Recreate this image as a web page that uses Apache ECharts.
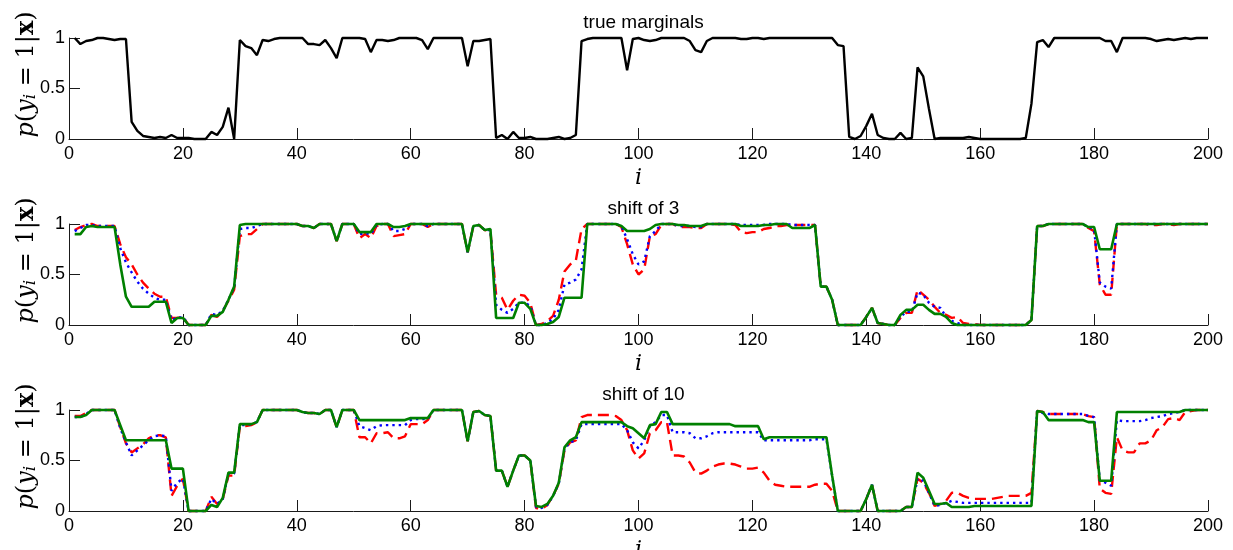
<!DOCTYPE html>
<html>
<head>
<meta charset="utf-8">
<script src="https://cdn.jsdelivr.net/npm/echarts@6/dist/echarts.min.js"></script>
<style>
  html, body { margin: 0; padding: 0; background: #fff; }
  #chart { width: 1233px; height: 550px; }
</style>
</head>
<body>
<div id="chart"></div>
<script>
// Marginal probabilities p(y_i = 1 | x) for positions i = 1..200.

const panelTitles = ['true marginals', 'shift of 3', 'shift of 10'];
const xTickValues = [0, 20, 40, 60, 80, 100, 120, 140, 160, 180, 200];
const yTickValues = [0, 0.5, 1];

// Exact marginals
const trueMarginals = [
  1.00, 0.94, 0.97, 0.98, 1.00, 1.00, 0.99, 0.98, 0.99, 0.99,
  0.17, 0.08, 0.03, 0.02, 0.01, 0.02, 0.01, 0.04, 0.01, 0.01,
  0.01, 0.00, 0.00, 0.00, 0.07, 0.04, 0.12, 0.31, 0.00, 0.98,
  0.92, 0.90, 0.83, 0.98, 0.97, 0.99, 1.00, 1.00, 1.00, 1.00,
  1.00, 0.94, 0.94, 0.93, 0.98, 0.90, 0.80, 1.00, 1.00, 1.00,
  1.00, 0.99, 0.86, 0.98, 0.98, 0.97, 0.98, 1.00, 1.00, 1.00,
  1.00, 0.98, 0.89, 1.00, 1.00, 1.00, 1.00, 1.00, 1.00, 0.72,
  0.97, 0.97, 0.98, 0.99, 0.01, 0.04, 0.00, 0.07, 0.01, 0.01,
  0.02, 0.00, 0.00, 0.00, 0.01, 0.02, 0.00, 0.01, 0.04, 0.97,
  0.99, 1.00, 1.00, 1.00, 1.00, 1.00, 1.00, 0.68, 0.99, 1.00,
  0.98, 0.97, 0.98, 1.00, 1.00, 1.00, 1.00, 1.00, 0.97, 0.88,
  0.86, 0.97, 1.00, 1.00, 1.00, 1.00, 1.00, 0.99, 0.99, 1.00,
  1.00, 0.99, 1.00, 1.00, 1.00, 1.00, 1.00, 1.00, 1.00, 1.00,
  1.00, 1.00, 1.00, 1.00, 0.93, 0.92, 0.02, 0.00, 0.03, 0.13,
  0.25, 0.04, 0.01, 0.00, 0.00, 0.06, 0.00, 0.01, 0.71, 0.62,
  0.30, 0.00, 0.01, 0.01, 0.01, 0.01, 0.01, 0.02, 0.01, 0.00,
  0.00, 0.00, 0.00, 0.00, 0.00, 0.00, 0.00, 0.01, 0.35, 0.96,
  0.98, 0.91, 1.00, 1.00, 1.00, 1.00, 1.00, 1.00, 1.00, 1.00,
  1.00, 0.97, 0.97, 0.86, 1.00, 1.00, 1.00, 1.00, 1.00, 0.99,
  0.97, 0.98, 0.99, 0.98, 0.99, 1.00, 0.99, 1.00, 1.00, 1.00
];

// Shift of 3: red dashed, blue dotted, green solid
const shift3Red = [
  0.94, 0.97, 0.99, 1.00, 0.98, 0.98, 0.98, 0.98, 0.80, 0.67,
  0.60, 0.50, 0.42, 0.36, 0.31, 0.28, 0.28, 0.07, 0.07, 0.08,
  0.00, 0.00, 0.00, 0.00, 0.10, 0.08, 0.14, 0.24, 0.35, 0.88,
  0.90, 0.90, 0.95, 1.00, 1.00, 1.00, 1.00, 1.00, 1.00, 1.00,
  0.98, 0.98, 0.96, 1.00, 1.00, 1.00, 0.83, 1.00, 1.00, 1.00,
  0.86, 0.90, 0.86, 0.98, 1.00, 1.00, 0.88, 0.89, 0.90, 1.00,
  1.00, 1.00, 0.97, 1.00, 1.00, 1.00, 1.00, 1.00, 1.00, 0.72,
  0.98, 0.99, 0.94, 0.93, 0.30, 0.27, 0.15, 0.24, 0.30, 0.29,
  0.22, 0.00, 0.01, 0.04, 0.09, 0.25, 0.53, 0.60, 0.64, 0.95,
  1.00, 1.00, 1.00, 1.00, 1.00, 1.00, 0.97, 0.80, 0.60, 0.50,
  0.55, 0.88, 0.90, 0.99, 1.00, 1.00, 0.97, 0.97, 0.97, 0.96,
  0.96, 1.00, 1.00, 1.00, 1.00, 1.00, 0.99, 0.92, 0.91, 0.92,
  0.92, 0.95, 0.96, 0.98, 0.98, 0.99, 0.99, 0.99, 0.99, 0.99,
  0.99, 0.38, 0.38, 0.25, 0.00, 0.00, 0.00, 0.00, 0.00, 0.08,
  0.17, 0.02, 0.01, 0.00, 0.00, 0.07, 0.12, 0.12, 0.35, 0.30,
  0.25, 0.18, 0.12, 0.10, 0.07, 0.08, 0.02, 0.01, 0.01, 0.00,
  0.00, 0.00, 0.00, 0.00, 0.00, 0.00, 0.00, 0.00, 0.05, 0.98,
  0.98, 1.00, 1.00, 1.00, 1.00, 1.00, 1.00, 1.00, 0.96, 0.93,
  0.40, 0.30, 0.30, 1.00, 1.00, 1.00, 1.00, 1.00, 1.00, 0.99,
  0.99, 1.00, 1.00, 0.99, 1.00, 1.00, 1.00, 1.00, 1.00, 1.00
];

const shift3Blue = [
  0.93, 0.96, 0.99, 0.99, 0.98, 0.98, 0.98, 0.98, 0.76, 0.62,
  0.52, 0.43, 0.36, 0.31, 0.27, 0.25, 0.25, 0.05, 0.07, 0.08,
  0.00, 0.00, 0.00, 0.00, 0.11, 0.10, 0.14, 0.25, 0.37, 0.95,
  0.96, 0.96, 0.98, 1.00, 1.00, 1.00, 1.00, 1.00, 1.00, 1.00,
  0.98, 0.98, 0.96, 1.00, 1.00, 1.00, 0.83, 1.00, 1.00, 1.00,
  0.90, 0.91, 0.90, 0.99, 1.00, 1.00, 0.93, 0.93, 0.95, 1.00,
  1.00, 1.00, 0.98, 1.00, 1.00, 1.00, 1.00, 1.00, 1.00, 0.72,
  0.98, 0.99, 0.94, 0.94, 0.20, 0.15, 0.12, 0.16, 0.22, 0.22,
  0.19, 0.00, 0.00, 0.02, 0.06, 0.15, 0.40, 0.42, 0.45, 0.55,
  1.00, 1.00, 1.00, 1.00, 1.00, 1.00, 0.98, 0.85, 0.70, 0.60,
  0.63, 0.88, 0.93, 1.00, 1.00, 1.00, 0.98, 0.98, 0.98, 0.97,
  0.97, 1.00, 1.00, 1.00, 1.00, 1.00, 1.00, 0.99, 0.99, 0.99,
  0.99, 0.99, 1.00, 1.00, 1.00, 1.00, 0.99, 0.99, 0.99, 0.99,
  0.99, 0.38, 0.38, 0.25, 0.00, 0.00, 0.00, 0.00, 0.00, 0.08,
  0.17, 0.02, 0.01, 0.00, 0.00, 0.08, 0.13, 0.13, 0.32, 0.30,
  0.22, 0.18, 0.17, 0.08, 0.04, 0.02, 0.00, 0.00, 0.00, 0.00,
  0.00, 0.00, 0.00, 0.00, 0.00, 0.00, 0.00, 0.00, 0.05, 0.98,
  0.98, 1.00, 1.00, 1.00, 1.00, 1.00, 1.00, 1.00, 0.97, 0.95,
  0.42, 0.38, 0.36, 1.00, 1.00, 1.00, 1.00, 1.00, 1.00, 1.00,
  1.00, 1.00, 1.00, 1.00, 1.00, 1.00, 1.00, 1.00, 1.00, 1.00
];

const shift3Green = [
  0.90, 0.90, 0.97, 0.98, 0.97, 0.97, 0.97, 0.97, 0.60, 0.28,
  0.18, 0.18, 0.18, 0.18, 0.23, 0.23, 0.23, 0.02, 0.07, 0.07,
  0.00, 0.00, 0.00, 0.00, 0.09, 0.09, 0.13, 0.25, 0.38, 0.99,
  1.00, 1.00, 1.00, 1.00, 1.00, 1.00, 1.00, 1.00, 1.00, 1.00,
  0.98, 0.98, 0.96, 1.00, 1.00, 1.00, 0.83, 1.00, 1.00, 1.00,
  0.92, 0.92, 0.92, 1.00, 1.00, 1.00, 0.97, 0.97, 0.98, 1.00,
  1.00, 1.00, 1.00, 1.00, 1.00, 1.00, 1.00, 1.00, 1.00, 0.72,
  0.98, 0.99, 0.94, 0.95, 0.07, 0.07, 0.07, 0.07, 0.22, 0.22,
  0.16, 0.00, 0.00, 0.01, 0.03, 0.08, 0.27, 0.27, 0.27, 0.27,
  1.00, 1.00, 1.00, 1.00, 1.00, 1.00, 0.98, 0.93, 0.93, 0.93,
  0.93, 0.95, 0.99, 1.00, 1.00, 1.00, 0.99, 0.99, 0.98, 0.98,
  0.98, 1.00, 1.00, 1.00, 1.00, 1.00, 1.00, 0.98, 0.98, 0.98,
  0.98, 0.99, 0.99, 1.00, 1.00, 1.00, 0.96, 0.96, 0.96, 0.96,
  0.99, 0.38, 0.38, 0.25, 0.00, 0.00, 0.00, 0.00, 0.00, 0.08,
  0.17, 0.02, 0.01, 0.00, 0.00, 0.10, 0.15, 0.15, 0.20, 0.20,
  0.15, 0.11, 0.11, 0.08, 0.02, 0.00, 0.00, 0.00, 0.00, 0.00,
  0.00, 0.00, 0.00, 0.00, 0.00, 0.00, 0.00, 0.00, 0.05, 0.98,
  0.98, 1.00, 1.00, 1.00, 1.00, 1.00, 1.00, 1.00, 0.97, 0.97,
  0.75, 0.75, 0.75, 1.00, 1.00, 1.00, 1.00, 1.00, 1.00, 1.00,
  1.00, 1.00, 1.00, 1.00, 1.00, 1.00, 1.00, 1.00, 1.00, 1.00
];

// Shift of 10: red dashed, blue dotted, green solid
const shift10Red = [
  0.94, 0.94, 0.97, 1.00, 1.00, 1.00, 1.00, 1.00, 0.83, 0.67,
  0.58, 0.62, 0.66, 0.72, 0.75, 0.75, 0.73, 0.15, 0.25, 0.32,
  0.00, 0.00, 0.00, 0.00, 0.14, 0.07, 0.12, 0.35, 0.35, 0.84,
  0.84, 0.85, 0.88, 1.00, 1.00, 1.00, 1.00, 1.00, 1.00, 1.00,
  0.98, 0.97, 0.97, 0.96, 1.00, 1.00, 0.83, 1.00, 1.00, 1.00,
  0.73, 0.73, 0.67, 0.77, 0.77, 0.78, 0.72, 0.72, 0.74, 0.86,
  0.86, 0.86, 0.90, 1.00, 1.00, 1.00, 1.00, 1.00, 1.00, 0.69,
  0.98, 0.99, 0.95, 0.94, 0.40, 0.40, 0.24, 0.40, 0.55, 0.55,
  0.50, 0.03, 0.02, 0.06, 0.15, 0.27, 0.60, 0.68, 0.70, 0.93,
  0.95, 0.95, 0.95, 0.95, 0.95, 0.94, 0.90, 0.80, 0.60, 0.52,
  0.57, 0.77, 0.80, 0.88, 0.88, 0.55, 0.55, 0.54, 0.48, 0.38,
  0.37, 0.40, 0.44, 0.46, 0.47, 0.47, 0.46, 0.44, 0.42, 0.42,
  0.43, 0.38, 0.30, 0.26, 0.25, 0.24, 0.24, 0.24, 0.24, 0.24,
  0.26, 0.27, 0.27, 0.20, 0.00, 0.00, 0.00, 0.00, 0.00, 0.12,
  0.26, 0.00, 0.00, 0.00, 0.00, 0.00, 0.04, 0.04, 0.32, 0.28,
  0.18, 0.05, 0.07, 0.10, 0.18, 0.18, 0.15, 0.13, 0.12, 0.12,
  0.12, 0.12, 0.13, 0.14, 0.15, 0.15, 0.15, 0.15, 0.18, 0.99,
  0.98, 0.96, 0.96, 0.96, 0.96, 0.96, 0.96, 0.96, 0.94, 0.93,
  0.22, 0.18, 0.17, 0.73, 0.60, 0.58, 0.58, 0.67, 0.67, 0.70,
  0.80, 0.83, 0.91, 0.92, 0.90, 0.98, 0.99, 1.00, 1.00, 1.00
];

const shift10Blue = [
  0.93, 0.93, 0.96, 1.00, 1.00, 1.00, 1.00, 1.00, 0.82, 0.68,
  0.55, 0.60, 0.65, 0.70, 0.74, 0.75, 0.74, 0.20, 0.28, 0.32,
  0.00, 0.00, 0.00, 0.00, 0.12, 0.07, 0.12, 0.37, 0.37, 0.85,
  0.85, 0.86, 0.88, 1.00, 1.00, 1.00, 1.00, 1.00, 1.00, 1.00,
  0.98, 0.97, 0.97, 0.96, 1.00, 1.00, 0.83, 1.00, 1.00, 1.00,
  0.84, 0.82, 0.80, 0.84, 0.85, 0.85, 0.85, 0.85, 0.85, 0.90,
  0.91, 0.91, 0.91, 1.00, 1.00, 1.00, 1.00, 1.00, 1.00, 0.69,
  0.98, 0.99, 0.95, 0.94, 0.40, 0.40, 0.24, 0.40, 0.55, 0.55,
  0.50, 0.04, 0.03, 0.06, 0.15, 0.27, 0.62, 0.68, 0.70, 0.86,
  0.86, 0.86, 0.86, 0.86, 0.86, 0.86, 0.86, 0.80, 0.68, 0.62,
  0.70, 0.84, 0.88, 0.95, 0.95, 0.78, 0.78, 0.78, 0.77, 0.72,
  0.72, 0.74, 0.77, 0.78, 0.78, 0.78, 0.78, 0.78, 0.78, 0.78,
  0.78, 0.70, 0.70, 0.70, 0.70, 0.70, 0.70, 0.70, 0.70, 0.70,
  0.71, 0.71, 0.71, 0.35, 0.00, 0.00, 0.00, 0.00, 0.00, 0.12,
  0.26, 0.00, 0.00, 0.00, 0.00, 0.00, 0.04, 0.04, 0.32, 0.30,
  0.18, 0.05, 0.06, 0.08, 0.10, 0.09, 0.08, 0.08, 0.08, 0.08,
  0.08, 0.08, 0.08, 0.08, 0.08, 0.08, 0.08, 0.08, 0.08, 0.99,
  0.97, 0.96, 0.96, 0.96, 0.96, 0.96, 0.96, 0.96, 0.94, 0.93,
  0.30, 0.28, 0.25, 0.90, 0.89, 0.89, 0.89, 0.89, 0.90, 0.92,
  0.93, 0.94, 0.96, 0.97, 0.98, 1.00, 1.00, 1.00, 1.00, 1.00
];

const shift10Green = [
  0.93, 0.93, 0.95, 1.00, 1.00, 1.00, 1.00, 1.00, 0.85, 0.70,
  0.70, 0.70, 0.70, 0.70, 0.70, 0.70, 0.70, 0.42, 0.42, 0.42,
  0.00, 0.00, 0.00, 0.00, 0.06, 0.04, 0.13, 0.38, 0.38, 0.86,
  0.86, 0.86, 0.88, 1.00, 1.00, 1.00, 1.00, 1.00, 1.00, 1.00,
  0.98, 0.97, 0.97, 0.96, 1.00, 1.00, 0.83, 1.00, 1.00, 1.00,
  0.90, 0.90, 0.90, 0.90, 0.90, 0.90, 0.90, 0.90, 0.90, 0.92,
  0.92, 0.92, 0.92, 1.00, 1.00, 1.00, 1.00, 1.00, 1.00, 0.69,
  0.98, 0.99, 0.95, 0.94, 0.40, 0.40, 0.24, 0.40, 0.55, 0.55,
  0.50, 0.05, 0.04, 0.07, 0.15, 0.28, 0.63, 0.70, 0.73, 0.88,
  0.88, 0.88, 0.88, 0.88, 0.88, 0.88, 0.88, 0.84, 0.82, 0.77,
  0.72, 0.85, 0.86, 0.98, 0.98, 0.86, 0.86, 0.86, 0.86, 0.86,
  0.86, 0.86, 0.86, 0.86, 0.86, 0.86, 0.84, 0.84, 0.84, 0.84,
  0.84, 0.71, 0.73, 0.73, 0.73, 0.73, 0.73, 0.73, 0.73, 0.73,
  0.73, 0.73, 0.73, 0.35, 0.00, 0.00, 0.00, 0.00, 0.00, 0.12,
  0.26, 0.00, 0.00, 0.00, 0.00, 0.00, 0.04, 0.04, 0.38, 0.33,
  0.20, 0.07, 0.07, 0.08, 0.04, 0.04, 0.04, 0.04, 0.05, 0.05,
  0.05, 0.05, 0.05, 0.05, 0.05, 0.05, 0.05, 0.05, 0.05, 0.99,
  0.98, 0.90, 0.90, 0.90, 0.90, 0.90, 0.90, 0.90, 0.88, 0.88,
  0.30, 0.30, 0.30, 0.98, 0.98, 0.98, 0.98, 0.98, 0.98, 0.98,
  0.98, 0.98, 0.98, 0.98, 0.98, 1.00, 1.00, 1.00, 1.00, 1.00
];

// ---- layout & styles ----
const gridTops = [38, 224, 410];
const gridHeight = 101;
const plotLeft = 69;
const plotRight = 25;
const plotCenterX = plotLeft + (1233 - plotLeft - plotRight) / 2;

const tickFont = 'Liberation Sans, Arial, Helvetica, sans-serif';
const mathFont = 'DejaVu Serif, Liberation Serif, serif';

const styles = {
  black: { color: '#000000', width: 2.4, type: 'solid' },
  red:   { color: '#ff0000', width: 2.4, type: [11, 6] },
  blue:  { color: '#0000ff', width: 2.4, type: [2.4, 4] },
  green: { color: '#008000', width: 2.6, type: 'solid' }
};

const panels = [
  [{ values: trueMarginals, style: styles.black }],
  [{ values: shift3Red, style: styles.red },
   { values: shift3Blue, style: styles.blue },
   { values: shift3Green, style: styles.green }],
  [{ values: shift10Red, style: styles.red },
   { values: shift10Blue, style: styles.blue },
   { values: shift10Green, style: styles.green }]
];

const toPoints = values => values.map((v, k) => [k + 1, v]);

const yName = '{it|p}{rm|(}{it|y}{sub|i}{rm| = 1|}{bf|x}{rm|)}';
const yNameStyle = {
  color: '#000',
  fontFamily: mathFont,
  fontSize: 24,
  padding: [0, 0, 0, 28],
  rich: {
    it:  { fontFamily: mathFont, fontStyle: 'italic', fontSize: 24, color: '#000' },
    rm:  { fontFamily: mathFont, fontSize: 24, color: '#000' },
    sub: { fontFamily: mathFont, fontStyle: 'italic', fontSize: 17, color: '#000', verticalAlign: 'bottom' },
    bf:  { fontFamily: mathFont, fontWeight: 'bold', fontSize: 24, color: '#000' }
  }
};

const axisLineStyle = { color: '#1a1a1a', width: 1 };

const option = {
  backgroundColor: '#ffffff',
  animation: false,
  title: panelTitles.map((t, k) => ({
    text: t,
    left: plotCenterX,
    top: gridTops[k] - 30,
    textAlign: 'center',
    textStyle: { fontFamily: tickFont, fontSize: 19, fontWeight: 'normal', color: '#000' }
  })),
  grid: gridTops.map(top => ({
    left: plotLeft, right: plotRight, top: top, height: gridHeight,
    containLabel: false, outerBoundsMode: 'none'
  })),
  xAxis: gridTops.map((_, k) => ({
    type: 'value',
    gridIndex: k,
    min: xTickValues[0],
    max: xTickValues[xTickValues.length - 1],
    interval: xTickValues[1] - xTickValues[0],
    name: 'i',
    nameLocation: 'middle',
    nameGap: 28,
    nameMoveOverlap: false,
    nameTextStyle: { fontFamily: mathFont, fontStyle: 'italic', fontSize: 22, color: '#000' },
    axisLine: { show: true, lineStyle: axisLineStyle },
    axisTick: { show: true, inside: true, length: 11, lineStyle: axisLineStyle },
    axisLabel: { show: true, margin: 6, fontFamily: tickFont, fontSize: 18, color: '#000' },
    splitLine: { show: false }
  })),
  yAxis: gridTops.map((_, k) => ({
    type: 'value',
    gridIndex: k,
    min: yTickValues[0],
    max: yTickValues[yTickValues.length - 1],
    interval: yTickValues[1] - yTickValues[0],
    name: yName,
    nameLocation: 'middle',
    nameRotate: 90,
    nameGap: 30,
    nameMoveOverlap: false,
    nameTextStyle: yNameStyle,
    axisLine: { show: true, lineStyle: axisLineStyle },
    axisTick: { show: true, inside: true, length: 11, lineStyle: axisLineStyle },
    axisLabel: { show: true, margin: 4, fontFamily: tickFont, fontSize: 18, color: '#000' },
    splitLine: { show: false }
  })),
  series: panels.flatMap((lines, k) => lines.map(line => ({
    type: 'line',
    xAxisIndex: k,
    yAxisIndex: k,
    data: toPoints(line.values),
    showSymbol: false,
    symbol: 'none',
    clip: false,
    lineStyle: line.style,
    emphasis: { disabled: true }
  })))
};

const chart = echarts.init(document.getElementById('chart'), null, { renderer: 'canvas' });
chart.setOption(option);
</script>
</body>
</html>
